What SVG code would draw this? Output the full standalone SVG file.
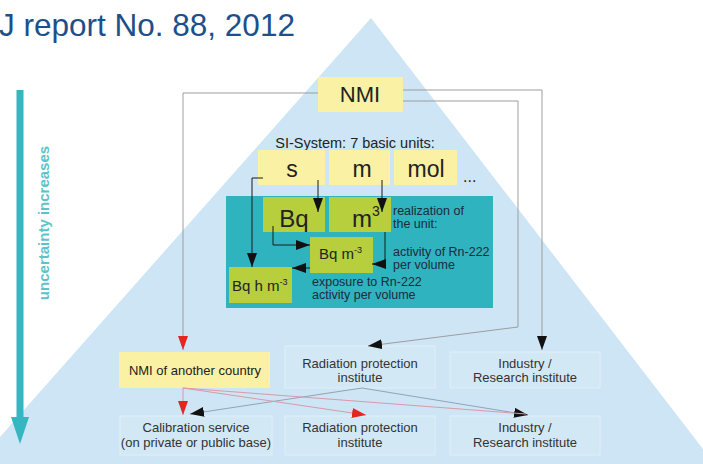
<svg xmlns="http://www.w3.org/2000/svg" width="703" height="464" viewBox="0 0 703 464">
<defs>
<style>
.t{font-family:"Liberation Sans",Arial,sans-serif;fill:#222}
.tri{fill:#cde5f4}
.yel{fill:#fbf1a4}
.grn{fill:#b7ce3d}
.box{fill:#d2e8f5;stroke:#e2eff8;stroke-width:1}
.gl{fill:none;stroke:#9d9d9d;stroke-width:1}
.dl{fill:none;stroke:#1a1a1a;stroke-width:1}
.rl{fill:none;stroke:#d99aa4;stroke-width:1}
.bl{fill:none;stroke:#8fa5b5;stroke-width:1}
.lab{font-size:12.5px;fill:#1d2a3c}
.row{font-size:13px;fill:#333}
</style>
<marker id="ab" viewBox="0 0 14 10" refX="14" refY="5" markerWidth="14" markerHeight="10" markerUnits="userSpaceOnUse" orient="auto"><path d="M0,0L14,5L0,10z" fill="#111"/></marker>
<marker id="ar" viewBox="0 0 14 10" refX="14" refY="5" markerWidth="14" markerHeight="10" markerUnits="userSpaceOnUse" orient="auto"><path d="M0,0L14,5L0,10z" fill="#e3261f"/></marker>
</defs>
<rect width="703" height="464" fill="#fff"/>
<polygon class="tri" points="371,18 -30,471 720,471"/>
<text class="t" x="-1" y="36" font-size="31.5" style="fill:#1d4f8b">J report No. 88, 2012</text>
<g id="uncertainty">
<line x1="20" y1="90" x2="20" y2="420" stroke="#35b6c1" stroke-width="7"/>
<polygon points="11,417 29,417 20,444" fill="#35b6c1"/>
<text class="t" transform="translate(49,223) rotate(-90)" text-anchor="middle" font-size="15" font-weight="bold" style="fill:#5cc3cb">uncertainty increases</text>
</g>
<g id="nmi">
<rect class="yel" x="318" y="77" width="85" height="35"/>
<text class="t" x="360" y="102" font-size="22" text-anchor="middle">NMI</text>
</g>
<text class="t" x="355" y="148" font-size="14.5" text-anchor="middle">SI-System: 7 basic units:</text>
<g id="unit-s">
<rect class="yel" x="258" y="150" width="67" height="35"/>
<text class="t" x="292" y="177" font-size="23" text-anchor="middle">s</text>
</g>
<g id="unit-m">
<rect class="yel" x="329" y="150" width="61" height="35"/>
<text class="t" x="362" y="177" font-size="23" text-anchor="middle">m</text>
</g>
<g id="unit-mol">
<rect class="yel" x="394" y="150" width="63" height="35"/>
<text class="t" x="426" y="177" font-size="23" text-anchor="middle">mol</text>
</g>
<text class="t" x="463" y="182" font-size="16">...</text>
<g id="realization">
<rect x="226" y="196" width="267" height="112" fill="#2fb3bf"/>
<text class="t lab" x="393" y="215">realization of</text>
<text class="t lab" x="393" y="228">the unit:</text>
<text class="t lab" x="393" y="256">activity of Rn-222</text>
<text class="t lab" x="393" y="269">per volume</text>
<text class="t lab" x="312" y="286">exposure to Rn-222</text>
<text class="t lab" x="312" y="299">activity per volume</text>
</g>
<g id="bq">
<rect class="grn" x="263" y="197" width="62" height="35"/>
<text class="t" x="294" y="227" font-size="24" text-anchor="middle">Bq</text>
</g>
<g id="m3">
<rect class="grn" x="329" y="197" width="62" height="35"/>
<text class="t" x="352" y="227" font-size="24">m<tspan font-size="14" dy="-11">3</tspan></text>
</g>
<g id="bq-m3">
<rect class="grn" x="310" y="237" width="63" height="36"/>
<text class="t" x="319" y="259" font-size="15">Bq m<tspan font-size="9" dy="-6">-3</tspan></text>
</g>
<g id="bq-h-m3">
<rect class="grn" x="229" y="267" width="63" height="36"/>
<text class="t" x="232" y="291" font-size="15">Bq h m<tspan font-size="9" dy="-6">-3</tspan></text>
</g>
<g id="nmi-other">
<rect class="yel" x="119" y="352" width="151" height="36"/>
<text class="t row" x="195" y="375" text-anchor="middle" style="fill:#222">NMI of another country</text>
</g>
<g id="rad1">
<rect class="box" x="285" y="346" width="150" height="42"/>
<text class="t row" x="360" y="368" text-anchor="middle">Radiation protection</text>
<text class="t row" x="360" y="382" text-anchor="middle">institute</text>
</g>
<g id="ind1">
<rect class="box" x="450" y="352" width="150" height="36"/>
<text class="t row" x="525" y="368" text-anchor="middle">Industry /</text>
<text class="t row" x="525" y="382" text-anchor="middle">Research institute</text>
</g>
<g id="cal">
<rect class="box" x="120" y="416" width="152" height="39"/>
<text class="t row" x="196" y="432" text-anchor="middle">Calibration service</text>
<text class="t row" x="196" y="447" text-anchor="middle">(on private or public base)</text>
</g>
<g id="rad2">
<rect class="box" x="285" y="416" width="150" height="39"/>
<text class="t row" x="360" y="432" text-anchor="middle">Radiation protection</text>
<text class="t row" x="360" y="447" text-anchor="middle">institute</text>
</g>
<g id="ind2">
<rect class="box" x="450" y="416" width="150" height="39"/>
<text class="t row" x="525" y="432" text-anchor="middle">Industry /</text>
<text class="t row" x="525" y="447" text-anchor="middle">Research institute</text>
</g>
<g id="connectors">
<path class="gl" d="M318,93H183V350" marker-end="url(#ar)"/>
<path class="gl" d="M403,90H542V350" marker-end="url(#ab)"/>
<path class="gl" d="M403,101H518V327L368,346" marker-end="url(#ab)"/>
<path class="dl" d="M263,178H252V267" marker-end="url(#ab)"/>
<path class="dl" d="M318,180V212" marker-end="url(#ab)"/>
<path class="dl" d="M382,180V212" marker-end="url(#ab)"/>
<path class="dl" d="M273,226V245H310" marker-end="url(#ab)"/>
<path class="dl" d="M385,232V264H372" marker-end="url(#ab)"/>
<path class="dl" d="M310,268H292" marker-end="url(#ab)"/>
<path class="bl" d="M362,388L190,414" marker-end="url(#ab)"/>
<path class="bl" d="M362,388L528,415" marker-end="url(#ab)"/>
<path class="rl" d="M183,388V415" marker-end="url(#ar)"/>
<path class="rl" d="M183,388L366,415" marker-end="url(#ar)"/>
<path class="rl" d="M183,388L526,414"/>
</g>
</svg>
